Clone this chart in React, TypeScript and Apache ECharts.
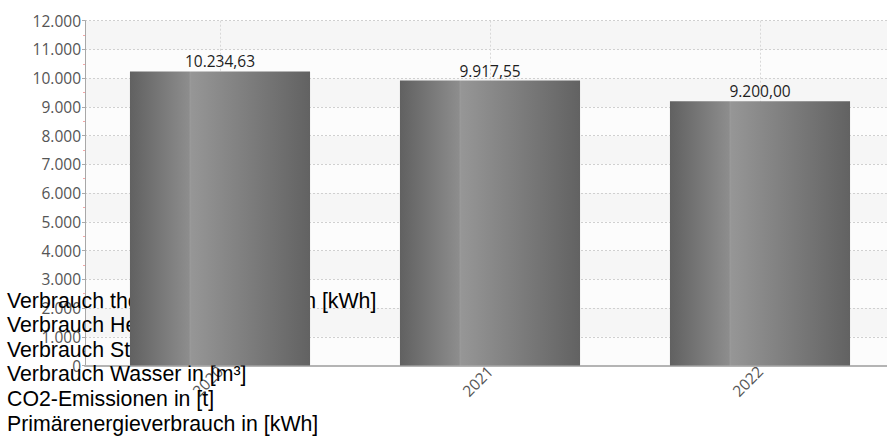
import React, { useEffect, useRef } from "react";
import * as echarts from "echarts";

const years = ["2020", "2021", "2022"];
const values = [10234.63, 9917.55, 9200.0];
const legendLines = [
  "Verbrauch thermische Energie in [kWh]",
  "Verbrauch Heizöl in [l]",
  "Verbrauch Strom in [kWh]",
  "Verbrauch Wasser in [m³]",
  "CO2-Emissionen in [t]",
  "Primärenergieverbrauch in [kWh]",
];

const fmtInt = (v: number) =>
  Math.round(v)
    .toString()
    .replace(/\B(?=(\d{3})+(?!\d))/g, ".");
const fmtDec = (v: number) => {
  const [i, d] = v.toFixed(2).split(".");
  return i.replace(/\B(?=(\d{3})+(?!\d))/g, ".") + "," + d;
};

export default function App() {
  const ref = useRef<HTMLDivElement>(null);
  useEffect(() => {
    if (!ref.current) return;
    const chart = echarts.init(ref.current, undefined, { renderer: "svg" });
    const barColor = new echarts.graphic.LinearGradient(0, 0, 1, 0, [
      { offset: 0, color: "#616161" },
      { offset: 0.33, color: "#8d8d8d" },
      { offset: 0.332, color: "#9d9d9d" },
      { offset: 0.34, color: "#969696" },
      { offset: 1, color: "#626262" },
    ]);
    chart.setOption({
      animation: false,
      grid: { left: 85, right: 0, top: 20.7, bottom: 70.5, containLabel: false },
      graphic: legendLines.map((t, i) => ({
        type: "text",
        z: 1,
        x: 7,
        y: 300.5 + i * 24.6,
        style: {
          text: t,
          font: '21.3px "Liberation Sans", Arial, sans-serif',
          fill: "#000",
          textVerticalAlign: "middle",
        },
      })),
      xAxis: {
        type: "category",
        data: years,
        axisLine: { show: true, lineStyle: { color: "#b4b4b4", width: 2 } },
        axisTick: { show: false },
        axisLabel: {
          rotate: 45,
          margin: 3,
          color: "#555",
          fontFamily: "Open Sans",
          fontSize: 15.5,
        },
        splitLine: {
          show: true,
          alignWithLabel: true,
          lineStyle: { color: "#d8d8d8", type: [2, 2], width: 1 },
        },
      } as any,
      yAxis: {
        type: "value",
        min: 0,
        max: 12000,
        interval: 1000,
        axisLine: { show: true, lineStyle: { color: "#a8a8a8", width: 1 } },
        axisTick: { show: true, length: 3, lineStyle: { color: "#aaa" } },
        minorTick: { show: true, splitNumber: 2, length: 2, lineStyle: { color: "#f4a8a8" } },
        axisLabel: {
          margin: 4,
          color: "#555",
          fontFamily: "Open Sans",
          fontSize: 15.5,
          formatter: (v: number) => fmtInt(v),
        },
        splitLine: {
          show: true,
          lineStyle: { color: "#d0d0d0", type: [2, 2], width: 1 },
        },
        splitArea: {
          show: true,
          areaStyle: { color: ["#fcfcfc", "#f6f6f6"] },
        },
      },
      series: [
        {
          type: "bar",
          z: 2,
          data: values,
          barWidth: "66.7%",
          itemStyle: { color: barColor },
          label: {
            show: true,
            position: "top",
            distance: 2,
            color: "#1e1e1e",
            fontFamily: "Open Sans",
            fontSize: 15.5,
            formatter: (p: any) => fmtDec(p.value),
          },
        },
      ],
    });
    return () => chart.dispose();
  }, []);
  return (
    <div style={{ position: "absolute", left: 0, top: 0, width: 887, height: 436, overflow: "hidden", background: "#fff" }}>
      <div ref={ref} style={{ width: 895, height: 436 }} />
    </div>
  );
}
